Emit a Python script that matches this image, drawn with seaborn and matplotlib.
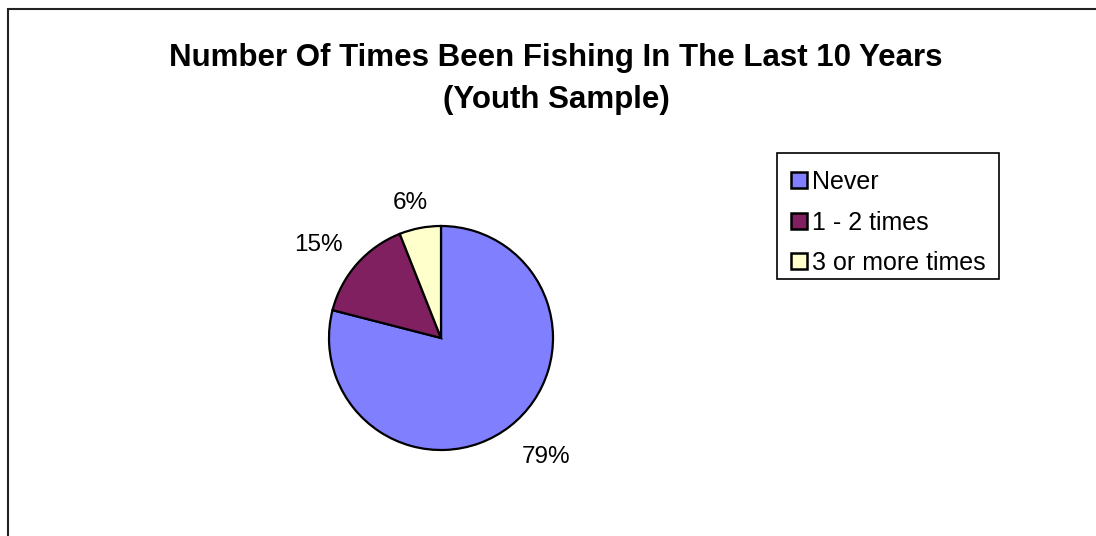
import numpy as np
import matplotlib
matplotlib.use("Agg")
import matplotlib.pyplot as plt
import matplotlib.patches as mpatches
import seaborn as sns

# Survey responses (percent of youth sample)
categories = ["Never", "1 - 2 times", "3 or more times"]
shares = [79, 15, 6]
colors = ["#8080FF", "#802060", "#FFFFCC"]

sns.set_theme(style="white")
plt.rcParams["font.family"] = ["Liberation Sans", "DejaVu Sans"]
plt.rcParams["text.color"] = "black"

W, H = 1096, 536
fig = plt.figure(figsize=(W / 100, H / 100), dpi=100)
fig.patch.set_facecolor("white")

# Outer chart-area border (runs off the right and bottom edges)
fig.add_artist(mpatches.Rectangle((8 / W, -0.05), 1.2, 1 - 9 / H + 0.05,
                                  transform=fig.transFigure, fill=False,
                                  edgecolor="#222222", linewidth=1.5))

fig.text(556 / W, 1 - 79 / H,
         "Number Of Times Been Fishing In The Last 10 Years\n(Youth Sample)",
         ha="center", va="center", fontsize=22.5, fontweight="bold",
         linespacing=1.5, color="black")

# Pie: radius r pixels, axes a bit larger so the outline is never clipped
cx, cy, r, half = 441, 338, 112, 150
ax = fig.add_axes([(cx - half) / W, (H - cy - half) / H, 2 * half / W, 2 * half / H])
wedges, texts, autotexts = ax.pie(
    shares, colors=colors, startangle=90, counterclock=False,
    autopct=lambda p: f"{p:.0f}%", pctdistance=1.2,
    wedgeprops=dict(edgecolor="black", linewidth=1.6),
    textprops=dict(fontsize=17.5, color="black"))
lim = half / r
ax.set_xlim(-lim, lim)
ax.set_ylim(-lim, lim)
ax.set_aspect("equal")

# Place each percentage label just outside its wedge, with the text corner
# nearest the pie touching an anchor ring around it (the small downward
# shift centres the digits rather than the full line box).
fig.canvas.draw()
renderer = fig.canvas.get_renderer()
anchor = 1.17
for w, t in zip(wedges, autotexts):
    theta = np.deg2rad((w.theta1 + w.theta2) / 2)
    bb = t.get_window_extent(renderer)
    tw, th = bb.width / r, bb.height / r
    c = np.clip(2 * np.cos(theta), -1, 1)
    s = np.clip(2 * np.sin(theta), -1, 1)
    x = anchor * np.cos(theta) + c * tw / 2
    y = anchor * np.sin(theta) + s * th / 2 - 0.2 * th
    t.set_position((x, y))
    t.set_ha("center")
    t.set_va("center")

# Legend entries, with a plain square box drawn around them
leg = fig.legend(wedges, categories, loc="upper left",
                 bbox_to_anchor=(791 / W, 1 - 170 / H),
                 fontsize=18, frameon=False,
                 handlelength=0.64, handleheight=0.6,
                 handletextpad=0.2, labelspacing=0.66, borderpad=0,
                 borderaxespad=0)
for h in leg.legend_handles:
    h.set_linewidth(1.8)
fig.add_artist(mpatches.Rectangle((777 / W, 1 - 279 / H), 222 / W, 126 / H,
                                  transform=fig.transFigure, fill=False,
                                  edgecolor="black", linewidth=1.2))

fig.savefig("out.png", dpi=100, facecolor="white")
